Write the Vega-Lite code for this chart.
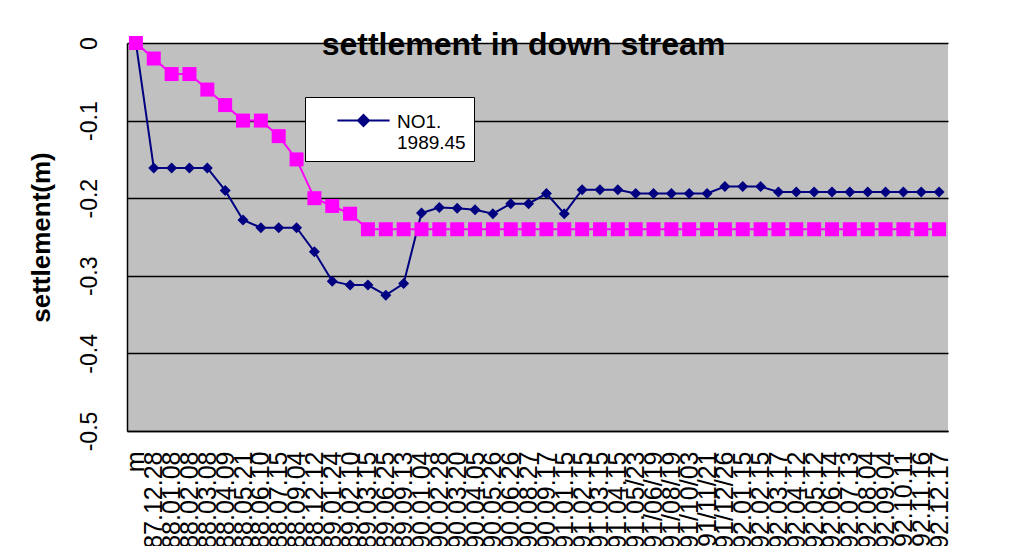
{
  "$schema": "https://vega.github.io/schema/vega-lite/v6.json",
  "width": 821,
  "height": 388,
  "autosize": "none",
  "padding": {"left": 127, "top": 43, "right": 73, "bottom": 115},
  "background": "#FFFFFF",
  "title": {
    "text": "settlement in down stream",
    "font": "Liberation Sans",
    "fontSize": 32,
    "fontWeight": "bold",
    "color": "#000000",
    "anchor": "middle",
    "frame": "group",
    "baseline": "alphabetic",
    "offset": 0,
    "dx": -14,
    "dy": 51
  },
  "data": {
    "values": [
      {"d": "m", "no1": 0, "calc": 0},
      {"d": "87.12.28", "no1": -0.161, "calc": -0.02},
      {"d": "88.01.08", "no1": -0.161, "calc": -0.04},
      {"d": "88.02.08", "no1": -0.161, "calc": -0.04},
      {"d": "88.03.08", "no1": -0.161, "calc": -0.06},
      {"d": "88.04.09", "no1": -0.190, "calc": -0.08},
      {"d": "88.05.21", "no1": -0.228, "calc": -0.10},
      {"d": "88.06.10", "no1": -0.238, "calc": -0.10},
      {"d": "88.07.15", "no1": -0.238, "calc": -0.12},
      {"d": "88.09.04", "no1": -0.238, "calc": -0.15},
      {"d": "88.12.12", "no1": -0.269, "calc": -0.20},
      {"d": "89.01.24", "no1": -0.307, "calc": -0.21},
      {"d": "89.02.10", "no1": -0.312, "calc": -0.22},
      {"d": "89.03.15", "no1": -0.312, "calc": -0.24},
      {"d": "89.06.25", "no1": -0.325, "calc": -0.24},
      {"d": "89.09.13", "no1": -0.310, "calc": -0.24},
      {"d": "90.01.04", "no1": -0.219, "calc": -0.24},
      {"d": "90.02.28", "no1": -0.212, "calc": -0.24},
      {"d": "90.03.20", "no1": -0.213, "calc": -0.24},
      {"d": "90.04.05", "no1": -0.215, "calc": -0.24},
      {"d": "90.05.26", "no1": -0.220, "calc": -0.24},
      {"d": "90.06.26", "no1": -0.207, "calc": -0.24},
      {"d": "90.08.27", "no1": -0.207, "calc": -0.24},
      {"d": "90.09.17", "no1": -0.194, "calc": -0.24},
      {"d": "91.01.15", "no1": -0.220, "calc": -0.24},
      {"d": "91.02.15", "no1": -0.189, "calc": -0.24},
      {"d": "91.03.15", "no1": -0.189, "calc": -0.24},
      {"d": "91.04.15", "no1": -0.189, "calc": -0.24},
      {"d": "91.05/23", "no1": -0.194, "calc": -0.24},
      {"d": "91/06/19", "no1": -0.194, "calc": -0.24},
      {"d": "91/08/19", "no1": -0.194, "calc": -0.24},
      {"d": "91/10/03", "no1": -0.194, "calc": -0.24},
      {"d": "91/11/21", "no1": -0.194, "calc": -0.24},
      {"d": "91/12/26", "no1": -0.185, "calc": -0.24},
      {"d": "92.01.15", "no1": -0.185, "calc": -0.24},
      {"d": "92.02.15", "no1": -0.185, "calc": -0.24},
      {"d": "92.03.17", "no1": -0.192, "calc": -0.24},
      {"d": "92.04.12", "no1": -0.192, "calc": -0.24},
      {"d": "92.05.12", "no1": -0.192, "calc": -0.24},
      {"d": "92.06.14", "no1": -0.192, "calc": -0.24},
      {"d": "92.07.13", "no1": -0.192, "calc": -0.24},
      {"d": "92.08.04", "no1": -0.192, "calc": -0.24},
      {"d": "92.09.04", "no1": -0.192, "calc": -0.24},
      {"d": "92.10.11", "no1": -0.192, "calc": -0.24},
      {"d": "92.11.16", "no1": -0.192, "calc": -0.24},
      {"d": "92.12.17", "no1": -0.192, "calc": -0.24}
    ]
  },
  "encoding": {
    "x": {
      "field": "d",
      "type": "nominal",
      "sort": null,
      "title": null,
      "axis": {
        "labelAngle": -90,
        "labelFont": "Liberation Sans",
        "labelFontSize": 25,
        "labelColor": "#000000",
        "labelPadding": 20,
        "labelOverlap": false,
        "labelLimit": 0,
        "ticks": false,
        "tickSize": 0,
        "domain": true,
        "domainColor": "#000000",
        "domainWidth": 1.5,
        "grid": false
      }
    }
  },
  "layer": [
    {
      "mark": {
        "type": "line",
        "strokeWidth": 2,
        "point": {"shape": "diamond", "size": 121, "filled": true}
      },
      "encoding": {
        "y": {
          "field": "no1",
          "type": "quantitative",
          "title": "settlement(m)",
          "scale": {"domain": [-0.5, 0], "nice": false, "zero": false},
          "axis": {
            "values": [0, -0.1, -0.2, -0.3, -0.4, -0.5],
            "labelExpr": "datum.value + ''",
            "labelAngle": -90,
            "labelAlign": "center",
            "labelBaseline": "middle",
            "labelFont": "Liberation Sans",
            "labelFontSize": 23,
            "labelColor": "#000000",
            "labelPadding": 38,
            "ticks": false,
            "tickSize": 0,
            "domain": true,
            "domainColor": "#000000",
            "domainWidth": 1.5,
            "grid": true,
            "gridColor": "#000000",
            "gridWidth": 1.6,
            "gridOpacity": 1,
            "titleFont": "Liberation Sans",
            "titleFontSize": 26,
            "titleFontWeight": "bold",
            "titleColor": "#000000",
            "titleAngle": -90,
            "titleAlign": "center",
            "titleBaseline": "middle",
            "titleX": -86,
            "titleY": 194
          }
        },
        "color": {
          "datum": "NO1. 1989.45",
          "type": "nominal",
          "scale": {"range": ["#000080"]},
          "legend": {
            "orient": "none",
            "legendX": 178,
            "legendY": 54,
            "title": null,
            "fillColor": "#FFFFFF",
            "strokeColor": "#000000",
            "padding": 8,
            "symbolType": "M-1.8,0H1.8M0,-0.38L0.38,0L0,0.38L-0.38,0Z",
            "symbolSize": 841,
            "symbolStrokeColor": "#000080",
            "symbolFillColor": "#000080",
            "symbolStrokeWidth": 2,
            "symbolOpacity": 1,
            "symbolOffset": 35,
            "labelOffset": 18,
            "labelFont": "Liberation Sans",
            "labelFontSize": 19,
            "labelColor": "#000000",
            "labelBaseline": "alphabetic",
            "labelLimit": 0,
            "labelExpr": "['NO1.', '1989.45']",
            "encode": {
              "symbols": {"update": {"fill": {"value": "#000080"}, "stroke": {"value": "#000080"}}},
              "labels": {"update": {"dy": {"value": 7}}}
            }
          }
        }
      }
    },
    {
      "mark": {
        "type": "line",
        "color": "#FF00FF",
        "strokeWidth": 2,
        "point": {"shape": "square", "size": 196, "filled": true, "color": "#FF00FF"}
      },
      "encoding": {
        "y": {"field": "calc", "type": "quantitative"}
      }
    }
  ],
  "config": {
    "view": {"fill": "#C0C0C0", "stroke": null},
    "font": "Liberation Sans"
  }
}
